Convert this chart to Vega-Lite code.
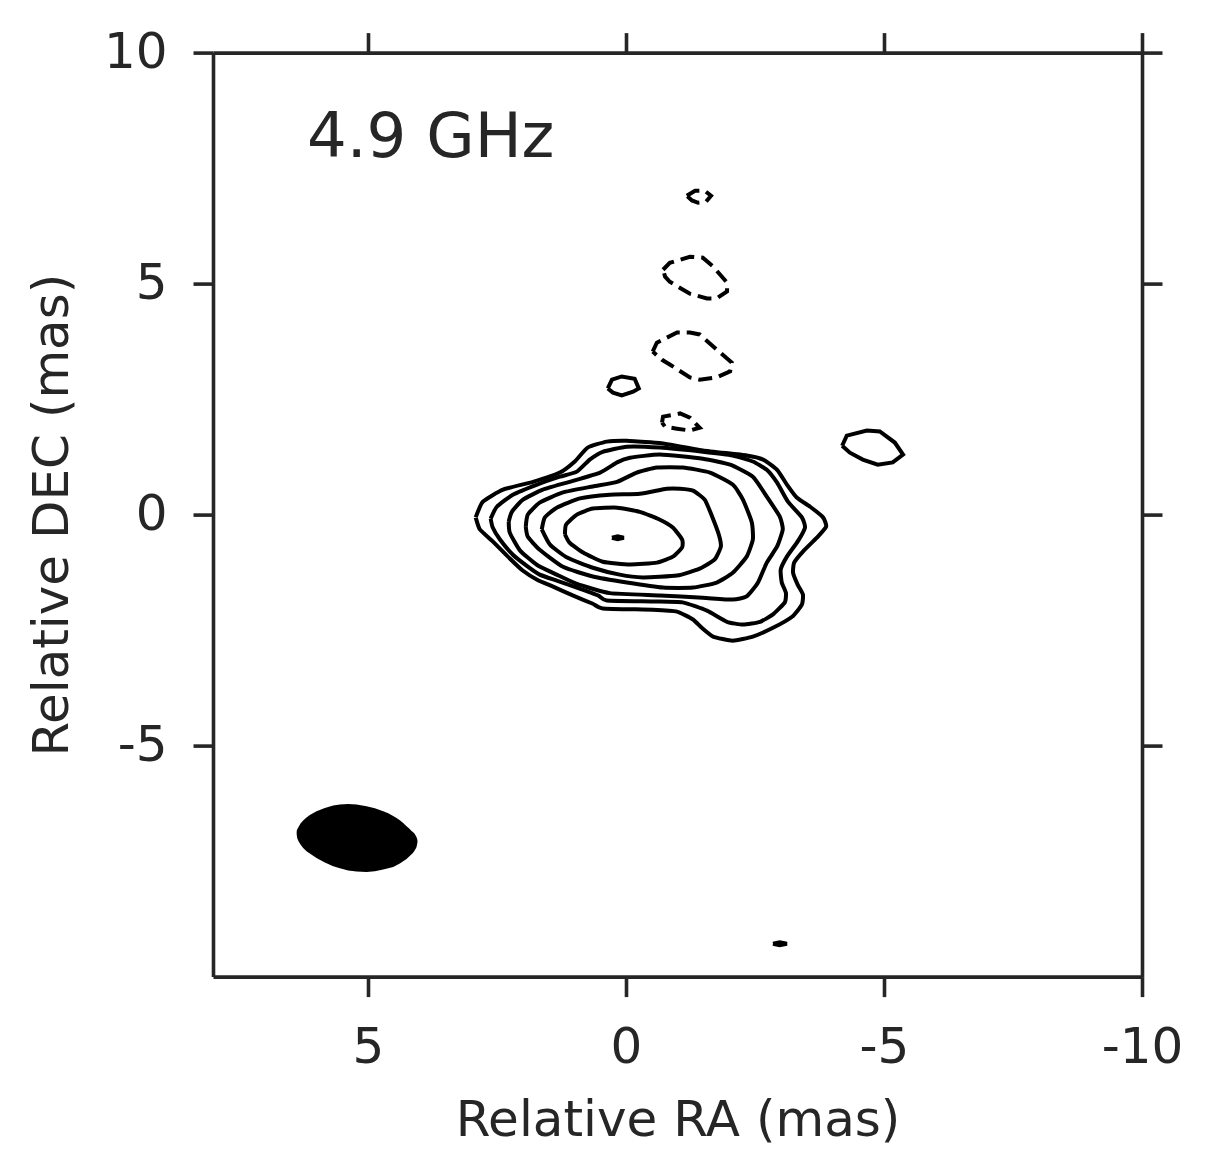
{"$schema":"https://vega.github.io/schema/vega-lite/v6.json","width":929,"height":924,"autosize":"none","padding":{"left":213,"top":52.6,"right":71,"bottom":199.4},"background":"white","config":{"view":{"stroke":null},"axis":{"grid":false,"domainColor":"#262626","domainWidth":3.6,"tickColor":"#262626","tickWidth":3.6,"tickSize":20,"labelColor":"#262626","titleColor":"#262626","labelFont":"DejaVu Sans","titleFont":"DejaVu Sans","labelFontSize":50,"titleFontSize":50,"titleFontWeight":"normal","labelOverlap":false,"labelFlush":false,"labelExpr":"'' + datum.value"}},"resolve":{"axis":{"x":"independent","y":"independent"}},"layer":[{"data":{"values":[{"a":6.38,"t":-6.89,"b":-6.89},{"a":6.376,"t":-6.832,"b":-6.948},{"a":6.369,"t":-6.818,"b":-6.998},{"a":6.343,"t":-6.76,"b":-7.07},{"a":6.304,"t":-6.688,"b":-7.142},{"a":6.253,"t":-6.623,"b":-7.215},{"a":6.188,"t":-6.558,"b":-7.287},{"a":6.124,"t":-6.5,"b":-7.337},{"a":5.994,"t":-6.421,"b":-7.431},{"a":5.833,"t":-6.349,"b":-7.532},{"a":5.671,"t":-6.298,"b":-7.611},{"a":5.542,"t":-6.277,"b":-7.655},{"a":5.381,"t":-6.262,"b":-7.705},{"a":5.219,"t":-6.277,"b":-7.727},{"a":5.025,"t":-6.313,"b":-7.734},{"a":4.864,"t":-6.356,"b":-7.72},{"a":4.702,"t":-6.421,"b":-7.684},{"a":4.605,"t":-6.464,"b":-7.655},{"a":4.509,"t":-6.522,"b":-7.626},{"a":4.444,"t":-6.565,"b":-7.59},{"a":4.38,"t":-6.616,"b":-7.554},{"a":4.315,"t":-6.674,"b":-7.503},{"a":4.25,"t":-6.746,"b":-7.453},{"a":4.199,"t":-6.796,"b":-7.402},{"a":4.153,"t":-6.847,"b":-7.352},{"a":4.127,"t":-6.868,"b":-7.323},{"a":4.102,"t":-6.897,"b":-7.287},{"a":4.076,"t":-6.94,"b":-7.236},{"a":4.056,"t":-6.984,"b":-7.193},{"a":4.043,"t":-7.027,"b":-7.121},{"a":4.037,"t":-7.07,"b":-7.07}]},"mark":{"type":"area","color":"black"},"encoding":{"x":{"field":"a","type":"quantitative","scale":{"domain":[8,-10],"nice":false,"zero":false},"axis":{"orient":"bottom","values":[5,0,-5,-10],"title":"Relative RA (mas)","labelPadding":26,"titlePadding":23}},"y":{"field":"t","type":"quantitative","scale":{"domain":[-10,10],"nice":false,"zero":false},"axis":{"orient":"left","values":[10,5,0,-5],"title":"Relative DEC (mas)","labelPadding":26,"titlePadding":26}},"y2":{"field":"b"}}},{"data":{"values":[{"a":0,"b":0}]},"mark":{"type":"point","opacity":0},"encoding":{"x":{"field":"a","type":"quantitative","scale":{"domain":[8,-10],"nice":false,"zero":false},"axis":{"orient":"top","values":[5,0,-5,-10],"title":null,"labels":false}},"y":{"field":"b","type":"quantitative","scale":{"domain":[-10,10],"nice":false,"zero":false},"axis":{"orient":"right","values":[10,5,0,-5],"title":null,"labels":false}}}},{"data":{"values":[{"c":"c1","i":0,"a":2.91,"b":-0.06},{"c":"c1","i":1,"a":2.77,"b":0.28},{"c":"c1","i":2,"a":2.38,"b":0.54},{"c":"c1","i":3,"a":1.80,"b":0.71},{"c":"c1","i":4,"a":1.28,"b":0.91},{"c":"c1","i":5,"a":0.99,"b":1.15},{"c":"c1","i":6,"a":0.74,"b":1.45},{"c":"c1","i":7,"a":0.37,"b":1.58},{"c":"c1","i":8,"a":-0.02,"b":1.60},{"c":"c1","i":9,"a":-0.52,"b":1.56},{"c":"c1","i":10,"a":-0.72,"b":1.54},{"c":"c1","i":11,"a":-1.49,"b":1.39},{"c":"c1","i":12,"a":-2.34,"b":1.28},{"c":"c1","i":13,"a":-2.66,"b":1.19},{"c":"c1","i":14,"a":-2.93,"b":0.97},{"c":"c1","i":15,"a":-3.12,"b":0.65},{"c":"c1","i":16,"a":-3.31,"b":0.37},{"c":"c1","i":17,"a":-3.57,"b":0.17},{"c":"c1","i":18,"a":-3.82,"b":-0.06},{"c":"c1","i":19,"a":-3.88,"b":-0.26},{"c":"c1","i":20,"a":-3.70,"b":-0.50},{"c":"c1","i":21,"a":-3.43,"b":-0.80},{"c":"c1","i":22,"a":-3.26,"b":-1.04},{"c":"c1","i":23,"a":-3.24,"b":-1.26},{"c":"c1","i":24,"a":-3.33,"b":-1.52},{"c":"c1","i":25,"a":-3.43,"b":-1.73},{"c":"c1","i":26,"a":-3.41,"b":-1.95},{"c":"c1","i":27,"a":-3.22,"b":-2.21},{"c":"c1","i":28,"a":-2.85,"b":-2.45},{"c":"c1","i":29,"a":-2.46,"b":-2.64},{"c":"c1","i":30,"a":-2.07,"b":-2.73},{"c":"c1","i":31,"a":-1.69,"b":-2.64},{"c":"c1","i":32,"a":-1.47,"b":-2.45},{"c":"c1","i":33,"a":-1.30,"b":-2.27},{"c":"c1","i":34,"a":-0.99,"b":-2.10},{"c":"c1","i":35,"a":-0.52,"b":-2.06},{"c":"c1","i":36,"a":0.45,"b":-2.03},{"c":"c1","i":37,"a":0.64,"b":-1.93},{"c":"c1","i":38,"a":1.03,"b":-1.75},{"c":"c1","i":39,"a":1.41,"b":-1.56},{"c":"c1","i":40,"a":1.72,"b":-1.41},{"c":"c1","i":41,"a":2.00,"b":-1.21},{"c":"c1","i":42,"a":2.25,"b":-0.95},{"c":"c1","i":43,"a":2.58,"b":-0.58},{"c":"c1","i":44,"a":2.83,"b":-0.32},{"c":"c1","i":45,"a":2.91,"b":-0.06},{"c":"c2","i":0,"a":2.62,"b":-0.09},{"c":"c2","i":1,"a":2.50,"b":0.17},{"c":"c2","i":2,"a":2.19,"b":0.43},{"c":"c2","i":3,"a":1.72,"b":0.65},{"c":"c2","i":4,"a":1.28,"b":0.82},{"c":"c2","i":5,"a":0.95,"b":0.93},{"c":"c2","i":6,"a":0.70,"b":1.19},{"c":"c2","i":7,"a":0.45,"b":1.36},{"c":"c2","i":8,"a":-0.02,"b":1.47},{"c":"c2","i":9,"a":-0.66,"b":1.45},{"c":"c2","i":10,"a":-1.49,"b":1.36},{"c":"c2","i":11,"a":-2.07,"b":1.28},{"c":"c2","i":12,"a":-2.46,"b":1.15},{"c":"c2","i":13,"a":-2.73,"b":0.97},{"c":"c2","i":14,"a":-2.93,"b":0.69},{"c":"c2","i":15,"a":-3.14,"b":0.28},{"c":"c2","i":16,"a":-3.41,"b":-0.06},{"c":"c2","i":17,"a":-3.47,"b":-0.28},{"c":"c2","i":18,"a":-3.33,"b":-0.58},{"c":"c2","i":19,"a":-3.12,"b":-0.91},{"c":"c2","i":20,"a":-3.00,"b":-1.19},{"c":"c2","i":21,"a":-3.02,"b":-1.47},{"c":"c2","i":22,"a":-3.10,"b":-1.69},{"c":"c2","i":23,"a":-3.08,"b":-1.90},{"c":"c2","i":24,"a":-2.85,"b":-2.16},{"c":"c2","i":25,"a":-2.60,"b":-2.32},{"c":"c2","i":26,"a":-2.27,"b":-2.38},{"c":"c2","i":27,"a":-1.96,"b":-2.32},{"c":"c2","i":28,"a":-1.57,"b":-2.08},{"c":"c2","i":29,"a":-1.10,"b":-1.90},{"c":"c2","i":30,"a":-0.52,"b":-1.88},{"c":"c2","i":31,"a":0.37,"b":-1.86},{"c":"c2","i":32,"a":0.54,"b":-1.75},{"c":"c2","i":33,"a":0.95,"b":-1.58},{"c":"c2","i":34,"a":1.34,"b":-1.43},{"c":"c2","i":35,"a":1.67,"b":-1.30},{"c":"c2","i":36,"a":1.92,"b":-1.11},{"c":"c2","i":37,"a":2.19,"b":-0.87},{"c":"c2","i":38,"a":2.44,"b":-0.54},{"c":"c2","i":39,"a":2.58,"b":-0.28},{"c":"c2","i":40,"a":2.62,"b":-0.09},{"c":"c3","i":0,"a":2.27,"b":-0.15},{"c":"c3","i":1,"a":2.21,"b":0.06},{"c":"c3","i":2,"a":2.00,"b":0.32},{"c":"c3","i":3,"a":1.61,"b":0.54},{"c":"c3","i":4,"a":1.09,"b":0.71},{"c":"c3","i":5,"a":0.50,"b":0.91},{"c":"c3","i":6,"a":0.17,"b":1.13},{"c":"c3","i":7,"a":-0.08,"b":1.23},{"c":"c3","i":8,"a":-0.66,"b":1.30},{"c":"c3","i":9,"a":-1.49,"b":1.21},{"c":"c3","i":10,"a":-2.02,"b":1.08},{"c":"c3","i":11,"a":-2.46,"b":0.82},{"c":"c3","i":12,"a":-2.73,"b":0.39},{"c":"c3","i":13,"a":-2.98,"b":-0.04},{"c":"c3","i":14,"a":-3.04,"b":-0.32},{"c":"c3","i":15,"a":-2.93,"b":-0.69},{"c":"c3","i":16,"a":-2.73,"b":-1.04},{"c":"c3","i":17,"a":-2.56,"b":-1.47},{"c":"c3","i":18,"a":-2.34,"b":-1.77},{"c":"c3","i":19,"a":-2.07,"b":-1.84},{"c":"c3","i":20,"a":-1.49,"b":-1.80},{"c":"c3","i":21,"a":-0.66,"b":-1.75},{"c":"c3","i":22,"a":0.31,"b":-1.70},{"c":"c3","i":23,"a":0.95,"b":-1.50},{"c":"c3","i":24,"a":1.34,"b":-1.30},{"c":"c3","i":25,"a":1.72,"b":-1.09},{"c":"c3","i":26,"a":2.05,"b":-0.78},{"c":"c3","i":27,"a":2.25,"b":-0.39},{"c":"c3","i":28,"a":2.27,"b":-0.15},{"c":"c4","i":0,"a":1.94,"b":-0.26},{"c":"c4","i":1,"a":1.90,"b":0},{"c":"c4","i":2,"a":1.67,"b":0.26},{"c":"c4","i":3,"a":1.22,"b":0.48},{"c":"c4","i":4,"a":0.64,"b":0.61},{"c":"c4","i":5,"a":0.17,"b":0.71},{"c":"c4","i":6,"a":-0.21,"b":0.91},{"c":"c4","i":7,"a":-0.60,"b":1.02},{"c":"c4","i":8,"a":-1.10,"b":1.02},{"c":"c4","i":9,"a":-1.63,"b":0.91},{"c":"c4","i":10,"a":-2.07,"b":0.65},{"c":"c4","i":11,"a":-2.27,"b":0.32},{"c":"c4","i":12,"a":-2.44,"b":-0.17},{"c":"c4","i":13,"a":-2.46,"b":-0.54},{"c":"c4","i":14,"a":-2.34,"b":-0.91},{"c":"c4","i":15,"a":-2.07,"b":-1.26},{"c":"c4","i":16,"a":-1.76,"b":-1.47},{"c":"c4","i":17,"a":-1.30,"b":-1.58},{"c":"c4","i":18,"a":-0.72,"b":-1.58},{"c":"c4","i":19,"a":-0.02,"b":-1.47},{"c":"c4","i":20,"a":0.64,"b":-1.34},{"c":"c4","i":21,"a":1.22,"b":-1.13},{"c":"c4","i":22,"a":1.67,"b":-0.76},{"c":"c4","i":23,"a":1.90,"b":-0.48},{"c":"c4","i":24,"a":1.94,"b":-0.26},{"c":"c5","i":0,"a":1.63,"b":-0.32},{"c":"c5","i":1,"a":1.57,"b":-0.06},{"c":"c5","i":2,"a":1.34,"b":0.15},{"c":"c5","i":3,"a":0.89,"b":0.35},{"c":"c5","i":4,"a":0.31,"b":0.43},{"c":"c5","i":5,"a":-0.27,"b":0.45},{"c":"c5","i":6,"a":-0.79,"b":0.56},{"c":"c5","i":7,"a":-1.05,"b":0.56},{"c":"c5","i":8,"a":-1.30,"b":0.52},{"c":"c5","i":9,"a":-1.53,"b":0.32},{"c":"c5","i":10,"a":-1.67,"b":-0.04},{"c":"c5","i":11,"a":-1.80,"b":-0.43},{"c":"c5","i":12,"a":-1.84,"b":-0.69},{"c":"c5","i":13,"a":-1.72,"b":-0.97},{"c":"c5","i":14,"a":-1.43,"b":-1.17},{"c":"c5","i":15,"a":-0.99,"b":-1.32},{"c":"c5","i":16,"a":-0.33,"b":-1.36},{"c":"c5","i":17,"a":0.12,"b":-1.30},{"c":"c5","i":18,"a":0.64,"b":-1.15},{"c":"c5","i":19,"a":1.14,"b":-0.93},{"c":"c5","i":20,"a":1.47,"b":-0.65},{"c":"c5","i":21,"a":1.63,"b":-0.32},{"c":"c6","i":0,"a":1.18,"b":-0.43},{"c":"c6","i":1,"a":1.16,"b":-0.22},{"c":"c6","i":2,"a":0.95,"b":0},{"c":"c6","i":3,"a":0.64,"b":0.13},{"c":"c6","i":4,"a":0.17,"b":0.15},{"c":"c6","i":5,"a":-0.27,"b":0.06},{"c":"c6","i":6,"a":-0.66,"b":-0.11},{"c":"c6","i":7,"a":-0.91,"b":-0.28},{"c":"c6","i":8,"a":-1.09,"b":-0.54},{"c":"c6","i":9,"a":-1.09,"b":-0.71},{"c":"c6","i":10,"a":-0.91,"b":-0.91},{"c":"c6","i":11,"a":-0.60,"b":-1.04},{"c":"c6","i":12,"a":-0.08,"b":-1.08},{"c":"c6","i":13,"a":0.45,"b":-1.02},{"c":"c6","i":14,"a":0.83,"b":-0.82},{"c":"c6","i":15,"a":1.09,"b":-0.61},{"c":"c6","i":16,"a":1.18,"b":-0.43}]},"mark":{"type":"line","color":"black","strokeWidth":4,"interpolate":"cardinal","tension":0.5,"clip":true},"encoding":{"x":{"field":"a","type":"quantitative","scale":{"domain":[8,-10],"nice":false,"zero":false},"axis":null},"y":{"field":"b","type":"quantitative","scale":{"domain":[-10,10],"nice":false,"zero":false},"axis":null},"detail":{"field":"c"},"order":{"field":"i","type":"quantitative"}}},{"data":{"values":[{"c":"p","i":0,"a":0.27,"b":-0.50},{"c":"p","i":1,"a":0.16,"b":-0.47},{"c":"p","i":2,"a":0.04,"b":-0.50},{"c":"p","i":3,"a":0.16,"b":-0.53},{"c":"p","i":4,"a":0.27,"b":-0.50},{"c":"q","i":0,"a":-2.85,"b":-9.29},{"c":"q","i":1,"a":-2.98,"b":-9.26},{"c":"q","i":2,"a":-3.12,"b":-9.29},{"c":"q","i":3,"a":-2.98,"b":-9.32},{"c":"q","i":4,"a":-2.85,"b":-9.29},{"c":"r","i":0,"a":0.35,"b":2.73},{"c":"r","i":1,"a":0.27,"b":2.92},{"c":"r","i":2,"a":0.08,"b":2.99},{"c":"r","i":3,"a":-0.17,"b":2.94},{"c":"r","i":4,"a":-0.25,"b":2.73},{"c":"r","i":5,"a":-0.14,"b":2.66},{"c":"r","i":6,"a":0.08,"b":2.58},{"c":"r","i":7,"a":0.25,"b":2.64},{"c":"r","i":8,"a":0.35,"b":2.73},{"c":"u","i":0,"a":-4.19,"b":1.49},{"c":"u","i":1,"a":-4.28,"b":1.71},{"c":"u","i":2,"a":-4.67,"b":1.82},{"c":"u","i":3,"a":-4.92,"b":1.80},{"c":"u","i":4,"a":-5.21,"b":1.56},{"c":"u","i":5,"a":-5.37,"b":1.30},{"c":"u","i":6,"a":-5.17,"b":1.13},{"c":"u","i":7,"a":-4.88,"b":1.08},{"c":"u","i":8,"a":-4.59,"b":1.19},{"c":"u","i":9,"a":-4.34,"b":1.34},{"c":"u","i":10,"a":-4.19,"b":1.49}]},"mark":{"type":"line","color":"black","strokeWidth":4,"clip":true},"encoding":{"x":{"field":"a","type":"quantitative","scale":{"domain":[8,-10],"nice":false,"zero":false},"axis":null},"y":{"field":"b","type":"quantitative","scale":{"domain":[-10,10],"nice":false,"zero":false},"axis":null},"detail":{"field":"c"},"order":{"field":"i","type":"quantitative"}}},{"data":{"values":[{"c":"d1","i":0,"a":-1.18,"b":6.90},{"c":"d1","i":1,"a":-1.34,"b":7.01},{"c":"d1","i":2,"a":-1.53,"b":7.01},{"c":"d1","i":3,"a":-1.65,"b":6.90},{"c":"d1","i":4,"a":-1.55,"b":6.77},{"c":"d1","i":5,"a":-1.40,"b":6.75},{"c":"d1","i":6,"a":-1.28,"b":6.80},{"c":"d1","i":7,"a":-1.18,"b":6.90},{"c":"d2","i":0,"a":-0.72,"b":5.30},{"c":"d2","i":1,"a":-0.85,"b":5.45},{"c":"d2","i":2,"a":-1.24,"b":5.58},{"c":"d2","i":3,"a":-1.49,"b":5.56},{"c":"d2","i":4,"a":-1.69,"b":5.37},{"c":"d2","i":5,"a":-1.96,"b":5.02},{"c":"d2","i":6,"a":-1.96,"b":4.83},{"c":"d2","i":7,"a":-1.76,"b":4.68},{"c":"d2","i":8,"a":-1.57,"b":4.68},{"c":"d2","i":9,"a":-1.24,"b":4.78},{"c":"d2","i":10,"a":-0.85,"b":5.04},{"c":"d2","i":11,"a":-0.76,"b":5.15},{"c":"d2","i":12,"a":-0.72,"b":5.30},{"c":"d3","i":0,"a":-0.52,"b":3.53},{"c":"d3","i":1,"a":-0.60,"b":3.72},{"c":"d3","i":2,"a":-0.99,"b":3.94},{"c":"d3","i":3,"a":-1.24,"b":3.94},{"c":"d3","i":4,"a":-1.43,"b":3.90},{"c":"d3","i":5,"a":-1.72,"b":3.61},{"c":"d3","i":6,"a":-2.05,"b":3.29},{"c":"d3","i":7,"a":-2.02,"b":3.10},{"c":"d3","i":8,"a":-1.76,"b":2.97},{"c":"d3","i":9,"a":-1.43,"b":2.92},{"c":"d3","i":10,"a":-1.24,"b":2.97},{"c":"d3","i":11,"a":-0.85,"b":3.25},{"c":"d3","i":12,"a":-0.70,"b":3.35},{"c":"d3","i":13,"a":-0.52,"b":3.53},{"c":"d4","i":0,"a":-0.70,"b":1.99},{"c":"d4","i":1,"a":-0.72,"b":2.12},{"c":"d4","i":2,"a":-1.05,"b":2.19},{"c":"d4","i":3,"a":-1.24,"b":2.10},{"c":"d4","i":4,"a":-1.43,"b":1.88},{"c":"d4","i":5,"a":-1.24,"b":1.82},{"c":"d4","i":6,"a":-0.99,"b":1.86},{"c":"d4","i":7,"a":-0.76,"b":1.90},{"c":"d4","i":8,"a":-0.70,"b":1.99}]},"mark":{"type":"line","color":"black","strokeWidth":4,"strokeDash":[14,7],"clip":true},"encoding":{"x":{"field":"a","type":"quantitative","scale":{"domain":[8,-10],"nice":false,"zero":false},"axis":null},"y":{"field":"b","type":"quantitative","scale":{"domain":[-10,10],"nice":false,"zero":false},"axis":null},"detail":{"field":"c"},"order":{"field":"i","type":"quantitative"}}},{"data":{"values":[{"a":6.18,"b":7.75,"label":"4.9 GHz"}]},"mark":{"type":"text","align":"left","baseline":"alphabetic","font":"DejaVu Sans","fontSize":62.5,"color":"#262626"},"encoding":{"x":{"field":"a","type":"quantitative","scale":{"domain":[8,-10],"nice":false,"zero":false},"axis":null},"y":{"field":"b","type":"quantitative","scale":{"domain":[-10,10],"nice":false,"zero":false},"axis":null},"text":{"field":"label"}}}]}
